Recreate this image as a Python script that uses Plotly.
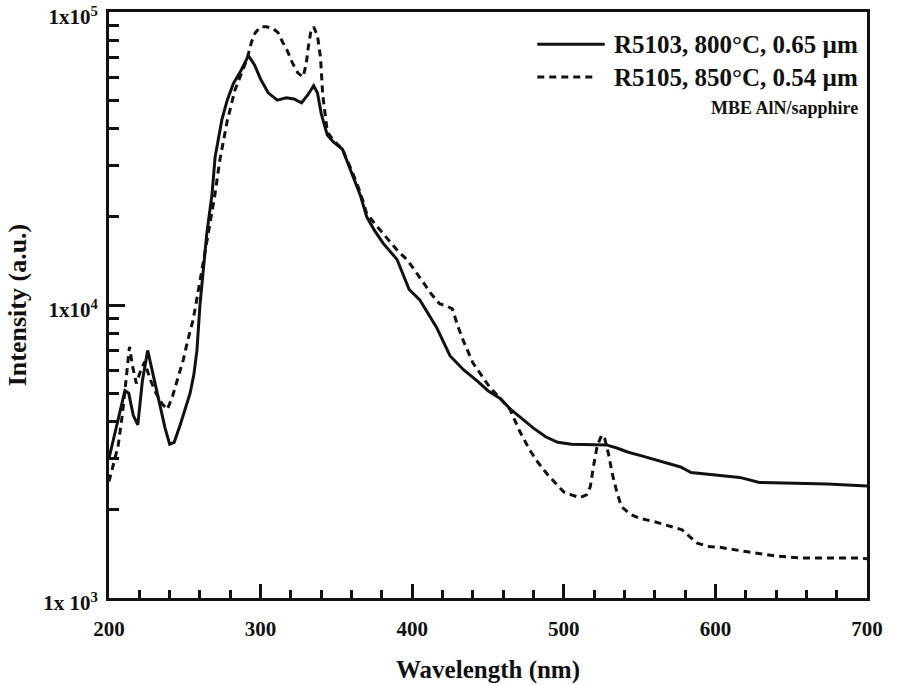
import plotly.graph_objects as go

# R5103, 800°C, 0.65 µm (solid)
solid_x = [200, 203, 205, 208, 210.5, 213, 216, 219, 222, 225.5, 229, 233.5, 237, 240, 243, 247,
           250, 253.5, 256, 258, 260, 262, 264.5, 268, 270, 274.5, 278, 282, 287, 292, 296, 300,
           305, 311, 317, 322, 327, 331, 335, 337.5, 340, 344, 348, 354, 361, 366, 370, 375, 381,
           390, 398, 405, 416, 425, 434, 443, 450, 458, 465, 472, 480, 488, 496, 505, 519, 528,
           535, 542, 552, 562, 577, 584, 600, 616, 629, 650, 674, 700]
solid_y = [3.0e3, 3.5e3, 3.9e3, 4.6e3, 5.1e3, 5.0e3, 4.2e3, 3.9e3, 5.5e3, 7.0e3, 5.8e3, 4.6e3,
           3.8e3, 3.35e3, 3.4e3, 3.9e3, 4.4e3, 5.0e3, 5.8e3, 7.0e3, 1.0e4, 1.3e4, 1.75e4, 2.4e4,
           3.2e4, 4.3e4, 5.0e4, 5.7e4, 6.3e4, 7.1e4, 6.6e4, 5.9e4, 5.3e4, 5.0e4, 5.1e4, 5.05e4,
           4.9e4, 5.2e4, 5.6e4, 5.3e4, 4.5e4, 3.8e4, 3.6e4, 3.4e4, 2.75e4, 2.35e4, 2.0e4, 1.8e4,
           1.62e4, 1.43e4, 1.13e4, 1.04e4, 8.4e3, 6.7e3, 6.0e3, 5.5e3, 5.1e3, 4.8e3, 4.4e3, 4.1e3,
           3.8e3, 3.55e3, 3.4e3, 3.35e3, 3.33e3, 3.33e3, 3.25e3, 3.15e3, 3.05e3, 2.95e3, 2.8e3,
           2.68e3, 2.63e3, 2.58e3, 2.48e3, 2.47e3, 2.45e3, 2.41e3]

# R5105, 850°C, 0.54 µm (dashed)
dash_x = [200, 203, 206, 209, 211.5, 213.5, 215.5, 218, 221, 223.5, 227, 231, 235, 238.5, 242,
          246, 249, 252, 255.5, 261, 266.5, 270, 273, 278, 283, 288, 291, 294, 296.5, 300, 304,
          308, 311.5, 314.5, 317.5, 321, 324.5, 328, 330, 331.5, 333, 335, 337.5, 339.5, 341,
          344, 348, 354, 361, 366, 370, 377, 384, 390, 397, 403, 408, 412, 418, 423, 426.5, 430,
          433.5, 440, 446, 451, 458, 464.5, 471, 477.5, 483, 489, 495, 500, 505, 510.5, 515,
          517.5, 519.5, 522, 525, 527, 529.5, 532, 535, 538, 544, 550, 560, 568, 578, 583, 588,
          595, 603, 620, 640, 656, 675, 695, 700]
dash_y = [2.5e3, 2.9e3, 3.3e3, 4.3e3, 5.8e3, 7.2e3, 6.2e3, 5.4e3, 6.0e3, 6.4e3, 5.6e3, 5.0e3,
          4.6e3, 4.4e3, 4.9e3, 5.7e3, 6.5e3, 7.6e3, 8.9e3, 1.29e4, 1.85e4, 2.4e4, 3.1e4, 4.25e4,
          5.4e4, 6.3e4, 6.9e4, 7.9e4, 8.5e4, 8.9e4, 8.9e4, 8.8e4, 8.5e4, 7.9e4, 7.4e4, 6.7e4,
          6.2e4, 6.0e4, 6.6e4, 7.6e4, 8.5e4, 8.9e4, 8.3e4, 7.0e4, 5.2e4, 3.9e4, 3.65e4, 3.4e4,
          2.8e4, 2.4e4, 2.05e4, 1.85e4, 1.68e4, 1.54e4, 1.42e4, 1.29e4, 1.18e4, 1.1e4, 1.01e4,
          9.9e3, 9.7e3, 8.5e3, 7.6e3, 6.35e3, 5.7e3, 5.25e3, 4.8e3, 4.4e3, 3.7e3, 3.2e3, 2.9e3,
          2.65e3, 2.45e3, 2.3e3, 2.25e3, 2.2e3, 2.25e3, 2.4e3, 2.8e3, 3.3e3, 3.6e3, 3.5e3, 3.1e3,
          2.65e3, 2.3e3, 2.05e3, 1.93e3, 1.87e3, 1.82e3, 1.77e3, 1.71e3, 1.62e3, 1.54e3, 1.5e3,
          1.49e3, 1.44e3, 1.39e3, 1.37e3, 1.37e3, 1.37e3, 1.36e3]

series_names = ["R5103, 800°C, 0.65 µm", "R5105, 850°C, 0.54 µm"]
note_text = "MBE AlN/sapphire"

x_ticks = [200, 300, 400, 500, 600, 700]
y_ticks = [1e3, 1e4, 1e5]
y_ticktext = ["1x 10<sup>3</sup>", "1x10<sup>4</sup>", "1x10<sup>5</sup>"]
y_minor = [m * d for d in (1e3, 1e4) for m in range(2, 10)]

FONT = "Liberation Serif"
INK = "#111111"

fig = go.Figure()
fig.add_trace(go.Scatter(x=solid_x, y=solid_y, mode="lines", name=series_names[0],
                         line=dict(color=INK, width=3), showlegend=False))
fig.add_trace(go.Scatter(x=dash_x, y=dash_y, mode="lines", name=series_names[1],
                         line=dict(color=INK, width=3, dash="7px,5px"), showlegend=False))

# legend drawn as key lines + labels in the plot's paper space
legend_rows = [(0.945, "solid", series_names[0], 0.654),
               (0.889, "7px,5px", series_names[1], 0.644)]
shapes = []
annotations = []
for ypos, dash, label, xend in legend_rows:
    shapes.append(dict(type="line", xref="paper", yref="paper", x0=0.565, x1=xend,
                       y0=ypos, y1=ypos, line=dict(color=INK, width=3, dash=dash)))
    annotations.append(dict(text=label, xref="paper", yref="paper", x=0.991, y=ypos,
                            xanchor="right", yanchor="middle", showarrow=False,
                            font=dict(family=FONT, size=25, color=INK, weight="bold")))
annotations.append(dict(text=note_text, xref="paper", yref="paper", x=0.991, y=0.836,
                        xanchor="right", yanchor="middle", showarrow=False,
                        font=dict(family=FONT, size=18, color=INK, weight="bold")))

fig.update_layout(
    width=897, height=685,
    margin=dict(l=109, r=30, t=12, b=87),
    paper_bgcolor="white", plot_bgcolor="white",
    font=dict(family=FONT, color=INK, size=20, weight="bold"),
    showlegend=False,
    shapes=shapes,
    annotations=annotations,
)

fig.update_xaxes(
    range=[200, 700], tickmode="array", tickvals=x_ticks,
    ticks="inside", ticklen=14, tickwidth=2.5, tickcolor=INK,
    minor=dict(dtick=20, ticks="inside", ticklen=8, tickwidth=2.5, tickcolor=INK),
    showline=True, linewidth=3, linecolor=INK, mirror=True,
    showgrid=False, zeroline=False, automargin=False,
    tickfont=dict(family=FONT, size=21, weight="bold"), ticklabelstandoff=10,
    ticklabeloverflow="allow",
    title=dict(text="Wavelength (nm)", font=dict(family=FONT, size=25, weight="bold"), standoff=21),
)
fig.update_yaxes(
    type="log", range=[3, 5], tickmode="array", tickvals=y_ticks, ticktext=y_ticktext,
    ticks="inside", ticklen=16, tickwidth=2.5, tickcolor=INK,
    minor=dict(tickmode="array", tickvals=y_minor, ticks="inside", ticklen=10, tickwidth=2.5,
               tickcolor=INK),
    showline=True, linewidth=3, linecolor=INK, mirror=True,
    showgrid=False, zeroline=False, automargin=False,
    tickfont=dict(family=FONT, size=21, weight="bold"), ticklabelshift=5, ticklabelstandoff=4,
    ticklabeloverflow="allow",
    title=dict(text="Intensity (a.u.)", font=dict(family=FONT, size=26, weight="bold"), standoff=10),
)

fig.write_html("out.html", config={"displayModeBar": False},
               post_script="document.body.style.margin='0';")
